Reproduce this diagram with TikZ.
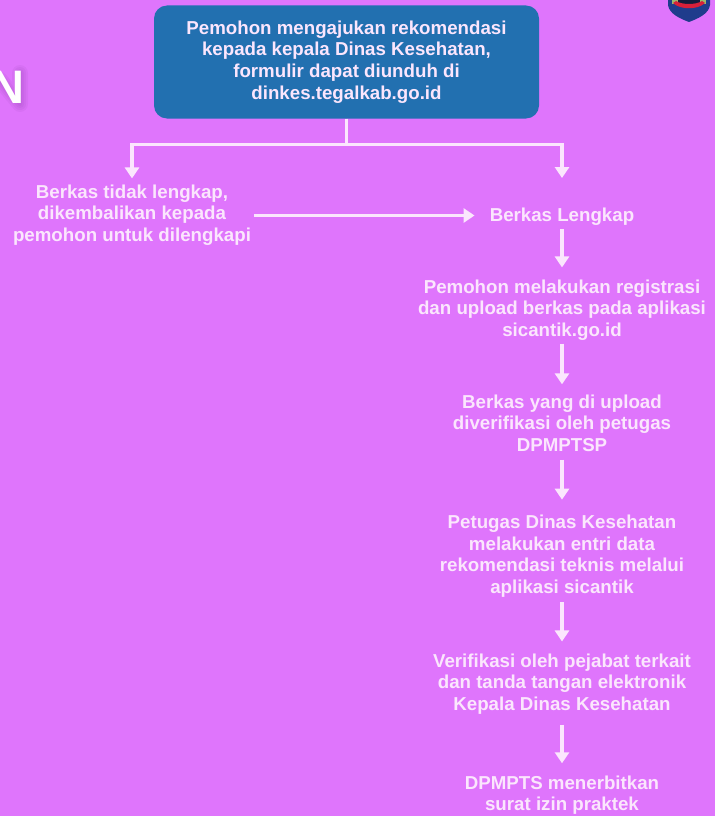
\documentclass[tikz,border=0pt]{standalone}
\usepackage{fontspec}
\setmainfont{Liberation Sans}
\definecolor{bgp}{HTML}{DF75FC}
\definecolor{boxb}{HTML}{2270B0}
\definecolor{txtw}{HTML}{FBE6FD}
\definecolor{crestb}{HTML}{1F3C8C}
\definecolor{crestr}{HTML}{D8203A}
\definecolor{crestd}{HTML}{141C3C}
\definecolor{cresty}{HTML}{9DB86A}
\definecolor{shad}{HTML}{7A2F98}
\tikzset{
 lbl/.style={align=center,text=txtw,font=\bfseries\fontsize{18.7}{21.6}\selectfont,inner sep=0pt},
 conn/.style={draw=txtw,line width=3.6pt},
 link/.style={conn,-{Triangle[width=14pt,length=11pt]}},
 nshadow/.style={draw=shad,opacity=.07,line join=round,line cap=round},
}
\usetikzlibrary{arrows.meta}
\begin{document}
\begin{tikzpicture}[x=1pt,y=-1pt]
\useasboundingbox (0,0) rectangle (715,816);
\fill[bgp] (0,0) rectangle (715,816);
\begin{scope}
\clip (0,0) rectangle (715,816);
\foreach \w in {16,12,8,4}
  \draw[nshadow,line width=\w pt] (20,73) -- (20,104) (20,104) -- (0,80);
\node[anchor=east,text=white,font=\bfseries\fontsize{47}{47}\selectfont,inner sep=0pt] (bigN) at (24.5,87) {N};
\fill[crestb] (668,-2) -- (668,5) .. controls (669,14) and (681,19) .. (689,22) .. controls (697,19) and (709,14) .. (710,5) -- (710,-2) -- cycle;
\fill[cresty] (672,-2) rectangle (706,4);
\fill[crestd] (678,-2) rectangle (700,4);
\fill[crestr] (673,3) .. controls (680,10) and (698,10) .. (705,3) -- (702,1) .. controls (696,5) and (682,5) .. (676,1) -- cycle;
\end{scope}
\node[fill=boxb,rounded corners=13pt,minimum width=385pt,minimum height=113pt,inner sep=0pt] (top) at (346.5,62) {};
\node[lbl] (topt) at (346.5,62) {Pemohon mengajukan rekomendasi\\kepada kepala Dinas Kesehatan,\\formulir dapat diunduh di\\dinkes.tegalkab.go.id};
\node[lbl] (a) at (132,215) {Berkas tidak lengkap,\\dikembalikan kepada\\pemohon untuk dilengkapi};
\node[lbl] (b) at (562,217) {Berkas Lengkap};
\node[lbl] (c) at (562,310) {Pemohon melakukan registrasi\\dan upload berkas pada aplikasi\\sicantik.go.id};
\node[lbl] (d) at (562,423) {Berkas yang di upload\\diverifikasi oleh petugas\\DPMPTSP};
\node[lbl] (e) at (562,556) {Petugas Dinas Kesehatan\\melakukan entri data\\rekomendasi teknis melalui\\aplikasi sicantik};
\node[lbl] (f) at (562,684) {Verifikasi oleh pejabat terkait\\dan tanda tangan elektronik\\Kepala Dinas Kesehatan};
\node[lbl] (g) at (562,795) {DPMPTS menerbitkan\\surat izin praktek};
\coordinate (j) at (346.5,144.5);
\coordinate (hs) at (254,215.5);
\draw[conn] (top.south) -- (j);
\draw[link] (j) -| ([yshift=6pt]a.north);
\draw[link] (j) -| ([yshift=30pt]b.north);
\draw[link] (hs) -- ([xshift=-15pt]b.west |- hs);
\draw[link] ([yshift=-3pt]b.south) -- ([yshift=12pt]c.north);
\draw[link] ([yshift=-3pt]c.south) -- ([yshift=10pt]d.north);
\draw[link] ([yshift=-8pt]d.south) -- ([yshift=15pt]e.north);
\draw[link] ([yshift=-5pt]e.south) -- ([yshift=12pt]f.north);
\draw[link] ([yshift=-10pt]f.south) -- ([yshift=12pt]g.north);
\end{tikzpicture}
\end{document}
